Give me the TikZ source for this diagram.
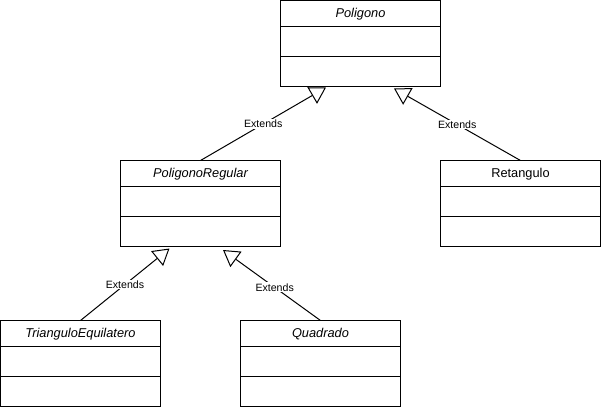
\documentclass[tikz,border=0pt]{standalone}
\usepackage{fontspec}
\setmainfont{Liberation Sans}
\usetikzlibrary{arrows.meta,calc}
\begin{document}
\begin{tikzpicture}[x=1pt,y=-1pt,
  cls/.style={draw=black,line width=1pt,minimum width=160pt,minimum height=86pt,inner sep=0pt,outer sep=0pt},
  ttl/.style={font=\fontsize{12.8}{15}\selectfont,inner sep=0pt},
  ext/.style={draw=black,line width=1pt,-{Triangle[open,length=16pt,width=19pt,line width=1pt]}},
  lbl/.style={font=\fontsize{10.6}{12}\selectfont,fill=white,inner sep=1pt}]
\useasboundingbox (0,0) rectangle (602,410);
% classes
\node[cls] (P) at (360.5,43.5) {};
\node[cls] (PR) at (200.5,203.5) {};
\node[cls] (R) at (520.5,203.5) {};
\node[cls] (T) at (80.5,363.5) {};
\node[cls] (Q) at (320.5,363.5) {};
\node[ttl] (Pt) at ($(P.north)+(0,13.5)$) {\itshape Poligono};
\node[ttl] (PRt) at ($(PR.north)+(0,13.5)$) {\itshape PoligonoRegular};
\node[ttl] (Rt) at ($(R.north)+(0,13.5)$) {Retangulo};
\node[ttl] (Tt) at ($(T.north)+(0,13.5)$) {\itshape TrianguloEquilatero};
\node[ttl] (Qt) at ($(Q.north)+(0,13.5)$) {\itshape Quadrado};
\foreach \n in {P,PR,R,T,Q}{
  \draw[line width=1pt] ($(\n.north west)+(0,26)$) -- ($(\n.north east)+(0,26)$);
  \draw[line width=1pt] ($(\n.north west)+(0,56)$) -- ($(\n.north east)+(0,56)$);
}
% arrow tip points
\coordinate (a1) at (326,87.5);
\coordinate (a2) at (394,88.5);
\coordinate (a3) at (169.5,248.5);
\coordinate (a4) at (223,250);
\draw[ext] (PR.north) -- node[lbl] (l1) {Extends} (a1);
\draw[ext] (R.north) -- node[lbl] (l2) {Extends} (a2);
\draw[ext] (T.north) -- node[lbl] (l3) {Extends} (a3);
\draw[ext] (Q.north) -- node[lbl,pos=0.47] (l4) {Extends} (a4);
\end{tikzpicture}
\end{document}
